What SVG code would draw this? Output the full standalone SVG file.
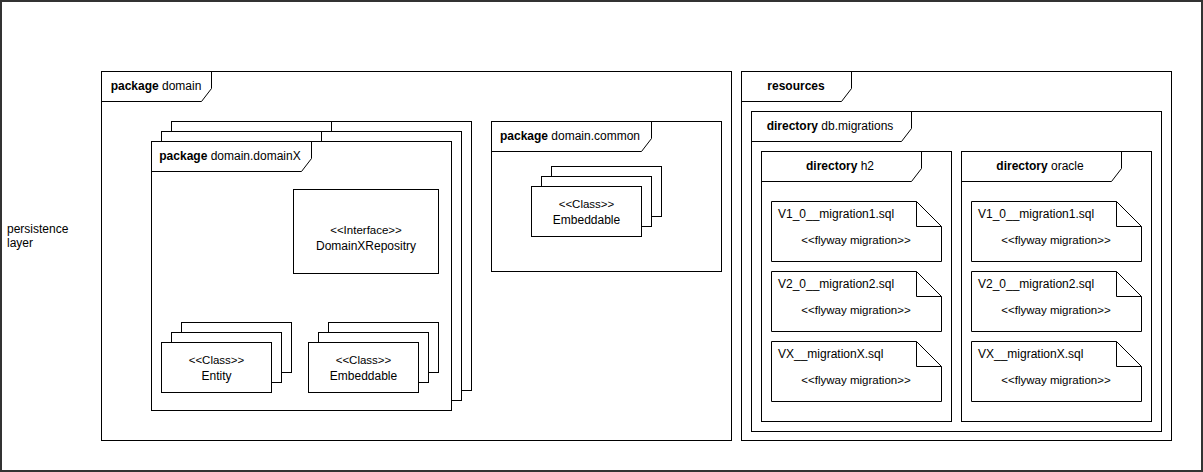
<svg xmlns="http://www.w3.org/2000/svg" width="1203" height="472" viewBox="0 0 1203 472">
<style>
.f{fill:#fff;stroke:#000;stroke-width:1}
.n{fill:none;stroke:#000;stroke-width:1}
.t{font-family:"Liberation Sans",Arial,sans-serif;font-size:12px;fill:#000}
.s{font-family:"Liberation Sans",Arial,sans-serif;font-size:11.5px;fill:#000}
.c{text-anchor:middle}
.b{font-weight:bold}
</style>
<rect x="0" y="0" width="1203" height="472" fill="#fff"/>
<g id="persistence-layer">
<rect x="1" y="1" width="1201" height="470" fill="#fff" stroke="#333" stroke-width="2"/>
<text class="t" x="7" y="233" fill="#333">persistence</text>
<text class="t" x="7" y="247" fill="#333">layer</text>
</g>
<g id="package-domain">
<rect class="f" x="101.5" y="71.5" width="630" height="369"/>
<path class="n" d="M101.5,101.5H201.5L211.5,88.5V71.5"/>
<text class="t c" x="156" y="90"><tspan class="b">package</tspan> domain</text>
</g>
<g id="package-domainX">
<rect class="f" x="171.5" y="121.5" width="300" height="269"/>
<path class="n" d="M171.5,151.5H321.5L331.5,138.5V121.5"/>
<rect class="f" x="161.5" y="131.5" width="300" height="269"/>
<path class="n" d="M161.5,161.5H311.5L321.5,148.5V131.5"/>
<rect class="f" x="151.5" y="141.5" width="300" height="269"/>
<path class="n" d="M151.5,171.5H301.5L311.5,158.5V141.5"/>
<text class="t c" x="230" y="160"><tspan class="b">package</tspan> domain.domainX</text>
</g>
<g id="interface-repository">
<rect class="f" x="293.5" y="189.5" width="145" height="84"/>
<text class="s c" x="366" y="234">&lt;&lt;Interface&gt;&gt;</text>
<text class="t c" x="366" y="250">DomainXRepositry</text>
</g>
<g id="class-entity">
<rect class="f" x="181.5" y="322.5" width="110" height="50"/>
<rect class="f" x="171.5" y="332.5" width="110" height="50"/>
<rect class="f" x="161.5" y="342.5" width="110" height="50"/>
<text class="s c" x="216.5" y="364">&lt;&lt;Class&gt;&gt;</text>
<text class="t c" x="216.5" y="380">Entity</text>
</g>
<g id="class-embeddable-domainX">
<rect class="f" x="328.5" y="322.5" width="110" height="50"/>
<rect class="f" x="318.5" y="332.5" width="110" height="50"/>
<rect class="f" x="308.5" y="342.5" width="110" height="50"/>
<text class="s c" x="363.5" y="364">&lt;&lt;Class&gt;&gt;</text>
<text class="t c" x="363.5" y="380">Embeddable</text>
</g>
<g id="package-domain-common">
<rect class="f" x="491.5" y="121.5" width="230" height="150"/>
<path class="n" d="M491.5,151.5H641.5L651.5,138.5V121.5"/>
<text class="t c" x="570" y="140"><tspan class="b">package</tspan> domain.common</text>
</g>
<g id="class-embeddable-common">
<rect class="f" x="551.5" y="166.5" width="110" height="50"/>
<rect class="f" x="541.5" y="176.5" width="110" height="50"/>
<rect class="f" x="531.5" y="186.5" width="110" height="50"/>
<text class="s c" x="586.5" y="208">&lt;&lt;Class&gt;&gt;</text>
<text class="t c" x="586.5" y="224">Embeddable</text>
</g>
<g id="resources">
<rect class="f" x="741.5" y="71.5" width="430" height="369"/>
<path class="n" d="M741.5,101.5H841.5L851.5,88.5V71.5"/>
<text class="t c b" x="796" y="90">resources</text>
</g>
<g id="dir-db-migrations">
<rect class="f" x="751.5" y="111.5" width="410" height="320"/>
<path class="n" d="M751.5,141.5H901.5L911.5,128.5V111.5"/>
<text class="t c" x="830" y="130"><tspan class="b">directory</tspan> db.migrations</text>
</g>
<g id="dir-h2">
<rect class="f" x="761.5" y="151.5" width="190" height="270"/>
<path class="n" d="M761.5,181.5H911.5L921.5,168.5V151.5"/>
<text class="t c" x="840" y="170"><tspan class="b">directory</tspan> h2</text>
</g>
<g id="dir-oracle">
<rect class="f" x="961.5" y="151.5" width="190" height="270"/>
<path class="n" d="M961.5,181.5H1111.5L1121.5,168.5V151.5"/>
<text class="t c" x="1040" y="170"><tspan class="b">directory</tspan> oracle</text>
</g>
<g id="h2-migration1">
<path class="f" d="M771.5,201.5H916.5L941.5,226.5V261.5H771.5Z"/>
<path class="n" d="M916.5,201.5V226.5H941.5"/>
<text class="t" x="778" y="218">V1_0__migration1.sql</text>
<text class="s c" x="856" y="244">&lt;&lt;flyway migration&gt;&gt;</text>
</g>
<g id="h2-migration2">
<path class="f" d="M771.5,271.5H916.5L941.5,296.5V331.5H771.5Z"/>
<path class="n" d="M916.5,271.5V296.5H941.5"/>
<text class="t" x="778" y="288">V2_0__migration2.sql</text>
<text class="s c" x="856" y="314">&lt;&lt;flyway migration&gt;&gt;</text>
</g>
<g id="h2-migrationX">
<path class="f" d="M771.5,341.5H916.5L941.5,366.5V401.5H771.5Z"/>
<path class="n" d="M916.5,341.5V366.5H941.5"/>
<text class="t" x="778" y="358">VX__migrationX.sql</text>
<text class="s c" x="856" y="384">&lt;&lt;flyway migration&gt;&gt;</text>
</g>
<g id="oracle-migration1">
<path class="f" d="M971.5,201.5H1116.5L1141.5,226.5V261.5H971.5Z"/>
<path class="n" d="M1116.5,201.5V226.5H1141.5"/>
<text class="t" x="978" y="218">V1_0__migration1.sql</text>
<text class="s c" x="1056" y="244">&lt;&lt;flyway migration&gt;&gt;</text>
</g>
<g id="oracle-migration2">
<path class="f" d="M971.5,271.5H1116.5L1141.5,296.5V331.5H971.5Z"/>
<path class="n" d="M1116.5,271.5V296.5H1141.5"/>
<text class="t" x="978" y="288">V2_0__migration2.sql</text>
<text class="s c" x="1056" y="314">&lt;&lt;flyway migration&gt;&gt;</text>
</g>
<g id="oracle-migrationX">
<path class="f" d="M971.5,341.5H1116.5L1141.5,366.5V401.5H971.5Z"/>
<path class="n" d="M1116.5,341.5V366.5H1141.5"/>
<text class="t" x="978" y="358">VX__migrationX.sql</text>
<text class="s c" x="1056" y="384">&lt;&lt;flyway migration&gt;&gt;</text>
</g>
<g id="connectors"></g>
</svg>
